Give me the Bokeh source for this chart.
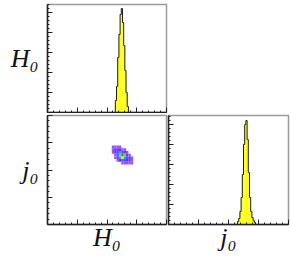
from bokeh.plotting import figure
from bokeh.layouts import column, row
from bokeh.models import BasicTicker, LinearColorMapper, ColumnDataSource, Range1d
from bokeh.embed import file_html
from bokeh.resources import INLINE

# ---------------- data ----------------
h0_range = [60.0, 80.0]
j0_range = [-2.0, 2.0]

# H0 marginal histogram
h0_first_edge = 71.4
h0_bin_width = 0.2
h0_counts = [120, 260, 550, 780, 980, 1040, 900, 670, 420, 200, 60]
h0_count_max = 1080

# j0 marginal histogram
j0_first_edge = 0.30
j0_bin_width = 0.04
j0_counts = [30, 60, 130, 270, 500, 800, 1000, 1040, 850, 520, 270, 130, 70, 40, 20]
j0_count_max = 1090

# 2D histogram (rows: top j0 bin first), density levels
h2_h0_first_edge = 70.8
h2_h0_bin_width = 0.4
h2_j0_top_edge = 0.9
h2_j0_bin_width = 0.1
h2_levels = [
    [1, 1, 1, 1, 0, 0, 0, 0, 0, 0],
    [1, 2, 2, 2, 1, 1, 0, 0, 0, 0],
    [1, 2, 3, 4, 3, 2, 1, 0, 0, 0],
    [0, 1, 3, 5, 7, 5, 2, 1, 0, 0],
    [0, 1, 2, 4, 6, 4, 3, 2, 1, 0],
    [0, 0, 1, 2, 3, 3, 2, 2, 1, 0],
    [0, 0, 0, 0, 1, 1, 1, 1, 1, 0],
]
palette = ["#9a50ff", "#6a2cff", "#3c50ff", "#00b4f0", "#3ce678", "#f0e600", "#ff2800"]

label_h0 = "H\u2080"
label_j0 = "j\u2080"

AXIS_COLOR = "#222222"
LABEL_FONT = "Liberation Serif"


def style(p):
    p.outline_line_color = "#9a9a9a"
    p.outline_line_width = 1.5
    p.grid.visible = False
    p.background_fill_color = "white"
    p.border_fill_color = "white"
    for ax in list(p.xaxis) + list(p.yaxis):
        ax.axis_line_color = AXIS_COLOR
        ax.axis_line_width = 1.5
        ax.major_tick_line_color = AXIS_COLOR
        ax.minor_tick_line_color = AXIS_COLOR
        ax.major_tick_in = 5
        ax.major_tick_out = 0
        ax.minor_tick_in = 2
        ax.minor_tick_out = 0
        ax.major_label_text_font_size = "1px"
        ax.major_label_text_color = None
        ax.major_label_standoff = 0
        ax.axis_label_text_font = LABEL_FONT
        ax.axis_label_text_font_style = "italic"
        ax.axis_label_text_font_size = "26px"
        ax.axis_label_text_color = "#111111"


def hist_figure(xr, ymax, frame_w, frame_h, borders):
    p = figure(frame_width=frame_w, frame_height=frame_h,
               x_range=Range1d(*xr), y_range=Range1d(0, ymax),
               toolbar_location=None, output_backend="svg",
               min_border_left=borders[0], min_border_right=borders[1],
               min_border_top=borders[2], min_border_bottom=borders[3])
    p.xaxis.ticker = BasicTicker(desired_num_ticks=4, num_minor_ticks=5)
    p.yaxis.ticker = BasicTicker(desired_num_ticks=5, num_minor_ticks=5)
    return p


def draw_hist(p, first_edge, width, counts):
    n = len(counts)
    lefts = [first_edge + i * width for i in range(n)]
    rights = [first_edge + (i + 1) * width for i in range(n)]
    p.quad(left=lefts, right=rights, bottom=[0] * n, top=counts,
           fill_color="#ffff00", line_color=None)
    xs = [lefts[0]] + lefts + [rights[-1]]
    ys = [0] + list(counts) + [0]
    p.step(x=xs, y=ys, mode="after", line_color="#1a1a1a", line_width=1)


# ---- top-left: H0 histogram ----
pa = hist_figure(h0_range, h0_count_max, 119, 108, (47, 2, 4, 1))
draw_hist(pa, h0_first_edge, h0_bin_width, h0_counts)
style(pa)
pa.yaxis.axis_label = label_h0
pa.yaxis.axis_label_orientation = "horizontal"
pa.yaxis.axis_label_standoff = 9

# ---- bottom-left: 2D ----
pb = figure(frame_width=119, frame_height=109,
            x_range=Range1d(*h0_range), y_range=Range1d(*j0_range),
            toolbar_location=None, output_backend="svg",
            min_border_left=47, min_border_right=1, min_border_top=2, min_border_bottom=32)
pb.xaxis.ticker = BasicTicker(desired_num_ticks=4, num_minor_ticks=5)
pb.yaxis.ticker = BasicTicker(desired_num_ticks=4, num_minor_ticks=5)
L, R, T, B, V = [], [], [], [], []
for r, rowvals in enumerate(h2_levels):
    for c, lev in enumerate(rowvals):
        if lev > 0:
            L.append(h2_h0_first_edge + c * h2_h0_bin_width)
            R.append(h2_h0_first_edge + (c + 1) * h2_h0_bin_width)
            T.append(h2_j0_top_edge - r * h2_j0_bin_width)
            B.append(h2_j0_top_edge - (r + 1) * h2_j0_bin_width)
            V.append(lev)
mapper = LinearColorMapper(palette=palette, low=0.5, high=len(palette) + 0.5)
src = ColumnDataSource(dict(left=L, right=R, top=T, bottom=B, level=V))
pb.quad(left="left", right="right", top="top", bottom="bottom", source=src,
        fill_color={"field": "level", "transform": mapper}, line_color=None)
style(pb)
pb.yaxis.axis_label = label_j0
pb.yaxis.axis_label_orientation = "horizontal"
pb.yaxis.axis_label_standoff = 9
pb.xaxis.axis_label = label_h0
pb.xaxis.axis_label_standoff = -2

# ---- bottom-right: j0 histogram ----
pc = hist_figure(j0_range, j0_count_max, 120, 109, (1, 2, 2, 32))
draw_hist(pc, j0_first_edge, j0_bin_width, j0_counts)
style(pc)
pc.xaxis.axis_label = label_j0
pc.xaxis.axis_label_standoff = -2

layout = column(pa, row(pb, pc))

open("out.html", "w").write(file_html(layout, INLINE))
